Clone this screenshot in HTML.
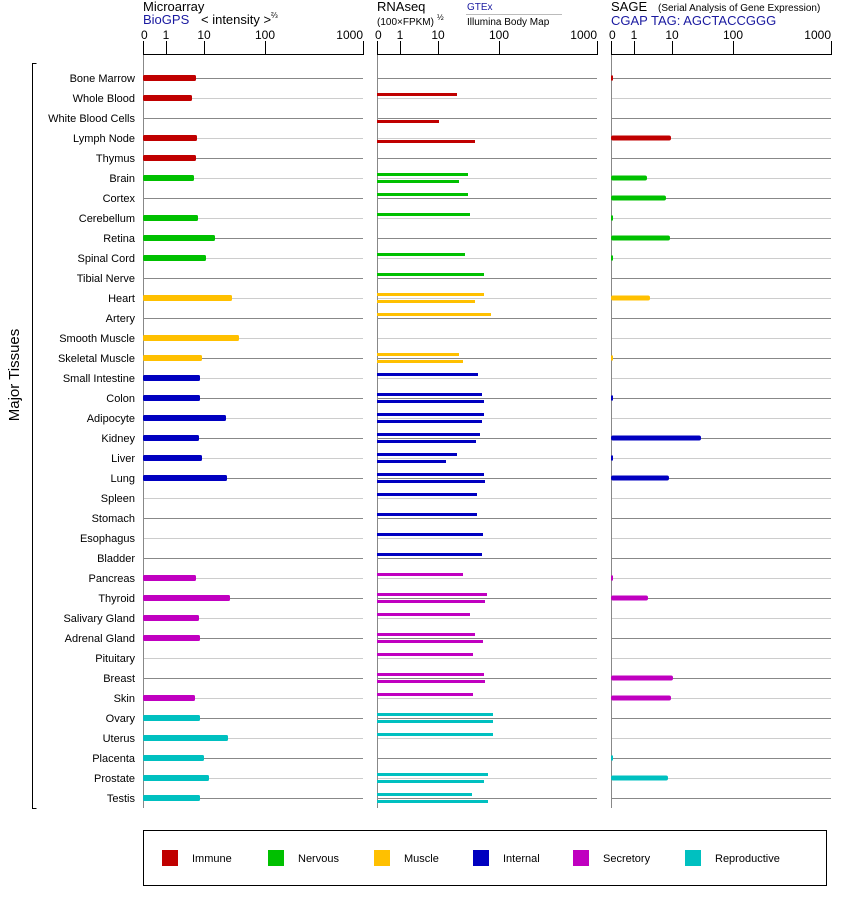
<!DOCTYPE html>
<html><head><meta charset="utf-8"><style>
body{margin:0;background:#fff;width:842px;height:900px;overflow:hidden}
svg{display:block;font-family:"Liberation Sans",Arial,sans-serif}
</style></head><body>
<svg id="s" width="842" height="900" xmlns="http://www.w3.org/2000/svg">
<text x="143" y="11" font-size="13">Microarray</text>
<text x="143" y="24" font-size="13" fill="#1a1aa0">BioGPS</text>
<text x="201" y="24" font-size="13">&lt; intensity &gt;</text>
<text x="271" y="18" font-size="8">⅔</text>
<text x="377" y="11" font-size="13">RNAseq</text>
<text x="377" y="25" font-size="10">(100×FPKM)</text>
<text x="437" y="20" font-size="8">½</text>
<text x="467" y="10" font-size="10" fill="#1a1aa0">GTEx</text>
<line x1="466" y1="14.5" x2="562" y2="14.5" stroke="#bbb"/>
<text x="467" y="25" font-size="10">Illumina Body Map</text>
<text x="611" y="11" font-size="13">SAGE</text>
<text x="658" y="11" font-size="10">(Serial Analysis of Gene Expression)</text>
<text x="611" y="25" font-size="13" fill="#1a1aa0">CGAP TAG: AGCTACCGGG</text>
<path d="M36.5,63.5H32.5V808.5H36.5" fill="none" stroke="#000"/>
<text transform="translate(19,375) rotate(-90)" font-size="15" text-anchor="middle">Major Tissues</text>
<rect x="143.5" y="830.5" width="683" height="55" fill="none" stroke="#000"/>
<g id="g"></g>
</svg>
<script>
var g=document.getElementById('g'),h='';
var C={I:'#c00000',N:'#00c000',M:'#ffc000',T:'#0000c0',S:'#c000c0',R:'#00c0c0'};
var rows=[
['Bone Marrow','I',196,[],613],['Whole Blood','I',192,[457,0],0],['White Blood Cells','I',0,[0,439],0],
['Lymph Node','I',197,[0,475],671],['Thymus','I',196,[],0],
['Brain','N',194,[468,459],647],['Cortex','N',0,[468,0],666],['Cerebellum','N',198,[470,0],613],
['Retina','N',215,[],670],['Spinal Cord','N',206,[465,0],613],['Tibial Nerve','N',0,[484,0],0],
['Heart','M',232,[484,475],650],['Artery','M',0,[491,0],0],['Smooth Muscle','M',239,[],0],
['Skeletal Muscle','M',202,[459,463],613],
['Small Intestine','T',200,[478,0],0],['Colon','T',200,[482,484],613],['Adipocyte','T',226,[484,482],0],
['Kidney','T',199,[480,476],701],['Liver','T',202,[457,446],613],['Lung','T',227,[484,485],669],
['Spleen','T',0,[477,0],0],['Stomach','T',0,[477,0],0],['Esophagus','T',0,[483,0],0],['Bladder','T',0,[482,0],0],
['Pancreas','S',196,[463,0],613],['Thyroid','S',230,[487,485],648],['Salivary Gland','S',199,[470,0],0],
['Adrenal Gland','S',200,[475,483],0],['Pituitary','S',0,[473,0],0],['Breast','S',0,[484,485],673],
['Skin','S',195,[473,0],671],
['Ovary','R',200,[493,493],0],['Uterus','R',228,[493,0],0],['Placenta','R',204,[],613],
['Prostate','R',209,[488,484],668],['Testis','R',200,[472,488],0]];
var P=[143,377,611];
P.forEach(function(x0){
 h+='<line x1="'+x0+'" y1="54.5" x2="'+(x0+220)+'" y2="54.5" stroke="#000"/>';
 [[0,'0'],[23,'1'],[61,'10'],[122,'100'],[220,'1000']].forEach(function(t){
  h+='<line x1="'+(x0+t[0]+.5)+'" y1="41" x2="'+(x0+t[0]+.5)+'" y2="55" stroke="#000"/>';
  h+='<text x="'+(x0+t[0]+(t[0]==0?-2:0))+'" y="39" font-size="12" text-anchor="'+(t[0]==0?'start':(t[0]==220?'end':'middle'))+'">'+t[1]+'</text>';
 });
 h+='<line x1="'+x0+'.5" y1="55" x2="'+x0+'.5" y2="808" stroke="#888"/>';
});
rows.forEach(function(r,i){
 var y=78+20*i,c=C[r[1]];
 h+='<text x="135" y="'+(y+4)+'" font-size="11" text-anchor="end">'+r[0]+'</text>';
 P.forEach(function(x0){h+='<line x1="'+(x0+1)+'" y1="'+(y+.5)+'" x2="'+(x0+220)+'" y2="'+(y+.5)+'" stroke="'+(i%2?'#ccc':'#888')+'"/>';});
 if(r[2])h+='<rect x="143" y="'+(y-3)+'" width="'+(r[2]-143)+'" height="6" rx="1.5" fill="'+c+'"/>';
 if(r[3][0])h+='<rect x="377" y="'+(y-5)+'" width="'+(r[3][0]-377)+'" height="3" fill="'+c+'"/>';
 if(r[3][1])h+='<rect x="377" y="'+(y+2)+'" width="'+(r[3][1]-377)+'" height="3" fill="'+c+'"/>';
 if(r[4])h+='<rect x="611" y="'+(y-2.5)+'" width="'+(r[4]-611)+'" height="5" rx="'+(r[4]-611>4?2:0)+'" fill="'+c+'"/>';
});
[['I','Immune',162],['N','Nervous',268],['M','Muscle',374],['T','Internal',473],['S','Secretory',573],['R','Reproductive',685]].forEach(function(l){
 h+='<rect x="'+l[2]+'" y="850" width="16" height="16" fill="'+C[l[0]]+'"/>';
 h+='<text x="'+(l[2]+30)+'" y="862" font-size="11">'+l[1]+'</text>';
});
g.innerHTML=h;
</script>
</body></html>
